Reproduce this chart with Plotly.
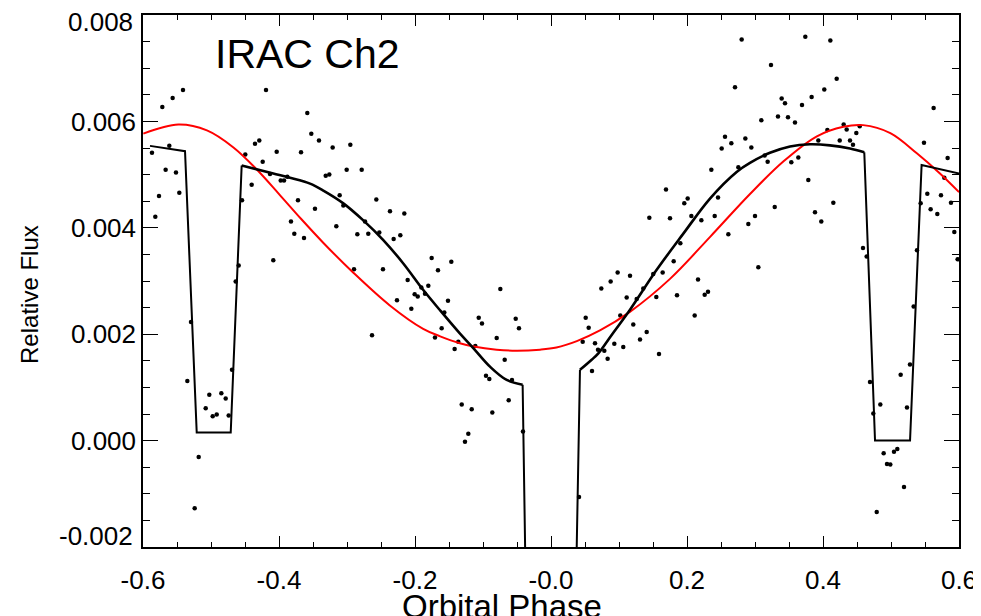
import plotly.graph_objects as go

# ---------------- data ----------------
phase = [-0.5868, -0.5819, -0.5765, -0.5716, -0.5667, -0.5613, -0.5564, -0.5515, -0.5466, -0.5412,
         -0.5348, -0.5294, -0.5240, -0.5181, -0.5078, -0.5025, -0.4975, -0.4916, -0.4848, -0.4784,
         -0.4740, -0.4691, -0.4637, -0.4593, -0.4544, -0.4496, -0.4402, -0.4353, -0.4290, -0.4240,
         -0.4191, -0.4132, -0.4084, -0.4034, -0.3975, -0.3926, -0.3878, -0.3824, -0.3775, -0.3721,
         -0.3676, -0.3632, -0.3584, -0.3525, -0.3471, -0.3412, -0.3313, -0.3260, -0.3211, -0.3157,
         -0.3108, -0.3054, -0.3005, -0.2951, -0.2897, -0.2848, -0.2784, -0.2735, -0.2687, -0.2632,
         -0.2569, -0.2525, -0.2471, -0.2368, -0.2314, -0.2265, -0.2216, -0.2157, -0.2108, -0.2054,
         -0.2005, -0.1960, -0.1907, -0.1853, -0.1804, -0.1755, -0.1706, -0.1662, -0.1608, -0.1569,
         -0.1515, -0.1466, -0.1417, -0.1363, -0.1313, -0.1265, -0.1216, -0.1166, -0.1113, -0.1063,
         -0.1015, -0.0956, -0.0907, -0.0863, -0.0799, -0.0745, -0.0681, -0.0622, -0.0574, -0.0519,
         -0.0471, -0.0412,
         0.0412, 0.0466, 0.0510, 0.0554, 0.0603, 0.0647, 0.0691, 0.0740, 0.0784, 0.0833,
         0.0877, 0.0931, 0.0980, 0.1019, 0.1063, 0.1113, 0.1162, 0.1210, 0.1260, 0.1309,
         0.1357, 0.1407, 0.1446, 0.1504, 0.1549, 0.1588, 0.1642, 0.1691, 0.1750, 0.1804,
         0.1853, 0.1902, 0.1960, 0.2010, 0.2064, 0.2113, 0.2162, 0.2211, 0.2260, 0.2309,
         0.2358, 0.2407, 0.2456, 0.2510, 0.2559, 0.2608, 0.2652, 0.2706, 0.2755, 0.2804,
         0.2858, 0.2902, 0.2946, 0.3000, 0.3049, 0.3093, 0.3142, 0.3186, 0.3235, 0.3290,
         0.3338, 0.3392, 0.3441, 0.3485, 0.3534, 0.3588, 0.3637, 0.3691, 0.3740, 0.3784,
         0.3833, 0.3882, 0.3931, 0.3975, 0.4019, 0.4064, 0.4108, 0.4152, 0.4201, 0.4246,
         0.4304, 0.4348, 0.4397, 0.4441, 0.4490, 0.4540, 0.4588, 0.4642, 0.4691, 0.4740,
         0.4790, 0.4843, 0.4892, 0.4941, 0.4990, 0.5044, 0.5093, 0.5142, 0.5191, 0.5235,
         0.5279, 0.5333, 0.5382, 0.5436, 0.5485, 0.5534, 0.5583, 0.5627, 0.5681, 0.5735,
         0.5784, 0.5833, 0.5882, 0.5931, 0.5980]

flux = [0.00541, 0.00421, 0.00460, 0.00627, 0.00509, 0.00554, 0.00644, 0.00504, 0.00466, 0.00659,
        0.00112, 0.00223, -0.00127, -0.00031, 0.00061, 0.00086, 0.00046, 0.00049, 0.00089, 0.00079,
        0.00047, 0.00133, 0.00299, 0.00329, 0.00452, 0.00538, 0.00481, 0.00558, 0.00564, 0.00524,
        0.00659, 0.00501, 0.00339, 0.00543, 0.00489, 0.00489, 0.00496, 0.00412, 0.00389, 0.00452,
        0.00542, 0.00381, 0.00616, 0.00577, 0.00436, 0.00564, 0.00498, 0.00500, 0.00551, 0.00403,
        0.00461, 0.00442, 0.00509, 0.00556, 0.00322, 0.00388, 0.00509, 0.00412, 0.00389, 0.00198,
        0.00453, 0.00391, 0.00322, 0.00431, 0.00379, 0.00264, 0.00386, 0.00427, 0.00302, 0.00248,
        0.00275, 0.00271, 0.00288, 0.00276, 0.00291, 0.00343, 0.00194, 0.00320, 0.00211, 0.00241,
        0.00263, 0.00336, 0.00172, 0.00186, 0.00068, -0.00002, 0.00013, 0.00059, 0.00178, 0.00231,
        0.00220, 0.00122, 0.00116, 0.00053, 0.00193, 0.00285, 0.00152, 0.00076, 0.00114, 0.00229,
        0.00211, 0.00017,
        -0.00106, 0.00186, 0.00231, 0.00212, 0.00131, 0.00183, 0.00171, 0.00286, 0.00169, 0.00154,
        0.00299, 0.00182, 0.00316, 0.00235, 0.00176, 0.00269, 0.00310, 0.00218, 0.00266, 0.00190,
        0.00286, 0.00204, 0.00419, 0.00313, 0.00270, 0.00163, 0.00316, 0.00472, 0.00418, 0.00337,
        0.00273, 0.00371, 0.00446, 0.00455, 0.00422, 0.00235, 0.00303, 0.00414, 0.00274, 0.00280,
        0.00509, 0.00422, 0.00457, 0.00549, 0.00571, 0.00388, 0.00559, 0.00664, 0.00514, 0.00754,
        0.00568, 0.00407, 0.00551, 0.00422, 0.00326, 0.00602, 0.00536, 0.00524, 0.00706, 0.00439,
        0.00609, 0.00643, 0.00634, 0.00608, 0.00523, 0.00598, 0.00532, 0.00631, 0.00759, 0.00490,
        0.00646, 0.00429, 0.00564, 0.00412, 0.00660, 0.00584, 0.00752, 0.00447, 0.00680, 0.00564,
        0.00594, 0.00585, 0.00564, 0.00556, 0.00578, 0.00591, 0.00362, 0.00346, 0.00110, 0.00051,
        -0.00134, 0.00068, -0.00024, -0.00044, -0.00045, -0.00021, -0.00016, 0.00124, -0.00087, 0.00062,
        0.00143, 0.00252, 0.00358, 0.00446, 0.00560, 0.00464, 0.00435, 0.00625, 0.00426, 0.00461,
        0.00494, 0.00531, 0.00447, 0.00392, 0.00341]

# black model (eclipse + transit + phase variation)
model_phase = [-0.5897, -0.5382, -0.5210, -0.4710, -0.4549, -0.4084, -0.3838, -0.3544, -0.3348,
               -0.3054, -0.2760, -0.2466, -0.2172, -0.1878, -0.1632, -0.1338, -0.1143, -0.0897,
               -0.0652, -0.0417, -0.0345, 0.0335, 0.0426, 0.0598, 0.0696, 0.0900, 0.1162,
               0.1554, 0.1946, 0.2338, 0.2730, 0.2926, 0.3220, 0.3515, 0.3809, 0.4103,
               0.4397, 0.4607, 0.4765, 0.5280, 0.5450, 0.6005]
model_flux = [0.00554, 0.00544, 0.00015, 0.00015, 0.00517, 0.00502, 0.00494, 0.00483, 0.00470,
              0.00446, 0.00414, 0.00377, 0.00333, 0.00283, 0.00245, 0.00201, 0.00174, 0.00139,
              0.00114, 0.00105, -0.00500, -0.00500, 0.00133, 0.00152, 0.00164, 0.00200, 0.00246,
              0.00321, 0.00389, 0.00455, 0.00505, 0.00522, 0.00541, 0.00553, 0.00557, 0.00555,
              0.00549, 0.00542, 0.00000, 0.00000, 0.00518, 0.00502]

# red sinusoidal model
sine_phase = [-0.5995, -0.548, -0.506, -0.467, -0.433, -0.399, -0.367, -0.335, -0.291, -0.237,
              -0.188, -0.163, -0.134, -0.114, -0.080, -0.051, -0.016, 0.008, 0.038, 0.072,
              0.116, 0.175, 0.234, 0.293, 0.342, 0.391, 0.430, 0.459, 0.499, 0.538,
              0.572, 0.600]
sine_flux = [0.00577, 0.00594, 0.00583, 0.00551, 0.00510, 0.00462, 0.00416, 0.00372, 0.00316, 0.00254,
             0.00210, 0.00196, 0.00183, 0.00177, 0.00171, 0.00169, 0.00171, 0.00175, 0.00187, 0.00207,
             0.00242, 0.00304, 0.00383, 0.00464, 0.00525, 0.00572, 0.00590, 0.00593, 0.00578, 0.00540,
             0.00502, 0.00467]

x_ticks = [-0.6, -0.4, -0.2, 0.0, 0.2, 0.4, 0.6]
x_tick_text = ["-0.6", "-0.4", "-0.2", "-0.0", "0.2", "0.4", "0.6"]
y_ticks = [-0.002, 0.0, 0.002, 0.004, 0.006, 0.008]
y_tick_text = ["-0.002", "0.000", "0.002", "0.004", "0.006", "0.008"]

FONT = "Liberation Sans, Arial, Helvetica, sans-serif"
TICK_SIZE = 26

fig = go.Figure()
fig.add_trace(go.Scatter(x=phase, y=flux, mode="markers",
                         marker=dict(color="black", size=4.5), showlegend=False))
fig.add_trace(go.Scatter(x=sine_phase, y=sine_flux, mode="lines", line_shape="spline",
                         line=dict(color="#ff0000", width=2), showlegend=False))

# model: straight pieces (eclipse/transit edges) and smooth pieces
linear_pieces = [(0, 5), (19, 23), (37, 42)]
smooth_pieces = [(4, 20), (22, 38)]
for a, b in linear_pieces:
    fig.add_trace(go.Scatter(x=model_phase[a:b], y=model_flux[a:b], mode="lines",
                             line=dict(color="black", width=2), showlegend=False))
for a, b in smooth_pieces:
    fig.add_trace(go.Scatter(x=model_phase[a:b], y=model_flux[a:b], mode="lines", line_shape="spline",
                             line=dict(color="black", width=2.6), showlegend=False))

axis_common = dict(showgrid=False, zeroline=False, showline=True, linecolor="black", linewidth=1.5,
                   mirror="ticks", ticks="inside", tickcolor="black", tickwidth=1.3, automargin=False,
                   ticklabeloverflow="allow",
                   tickfont=dict(family=FONT, size=TICK_SIZE, color="black"))

# the two end labels of the y axis sit slightly inside the frame in the reference,
# so they are written as annotations at their tick values (nudged inward)
y_inner_text = [t if 0 < i < len(y_ticks) - 1 else "" for i, t in enumerate(y_tick_text)]

fig.update_xaxes(range=[-0.6, 0.6], tickvals=x_ticks, ticktext=x_tick_text, ticklen=11,
                 minor=dict(ticks="inside", dtick=0.05, ticklen=5.5, tickcolor="black", tickwidth=1.3),
                 ticklabelstandoff=9, **axis_common)
fig.update_yaxes(range=[-0.002, 0.008], tickvals=y_ticks, ticktext=y_inner_text, ticklen=15,
                 minor=dict(ticks="inside", dtick=0.0005, ticklen=7.5, tickcolor="black", tickwidth=1.3),
                 ticklabelstandoff=0, **axis_common)

fig.add_annotation(x=0, y=y_ticks[-1], xref="paper", yref="y", yshift=-7, xshift=-8,
                   text=y_tick_text[-1], showarrow=False, xanchor="right", yanchor="middle",
                   font=dict(family=FONT, size=TICK_SIZE, color="black"))
fig.add_annotation(x=0, y=y_ticks[0], xref="paper", yref="y", yshift=11, xshift=-8,
                   text=y_tick_text[0], showarrow=False, xanchor="right", yanchor="middle",
                   font=dict(family=FONT, size=TICK_SIZE, color="black"))

fig.add_annotation(x=-0.497, y=0.00726, xref="x", yref="y", text="IRAC Ch2", showarrow=False,
                   xanchor="left", yanchor="middle", font=dict(family=FONT, size=41, color="black"))
fig.add_annotation(x=0.44, y=-0.111, xref="paper", yref="paper", text="Orbital Phase", showarrow=False,
                   xanchor="center", yanchor="middle", font=dict(family=FONT, size=33, color="black"))
fig.add_annotation(x=-0.1385, y=0.4756, xref="paper", yref="paper", text="Relative Flux", showarrow=False,
                   textangle=-90, xanchor="center", yanchor="middle",
                   font=dict(family=FONT, size=24, color="black"))

# page body has an 8px margin; size the figure so the plot box lands where the reference has it
fig.update_layout(width=973, height=608, margin=dict(l=135, r=22, t=7, b=69),
                  plot_bgcolor="white", paper_bgcolor="white")

fig.write_html("out.html")
